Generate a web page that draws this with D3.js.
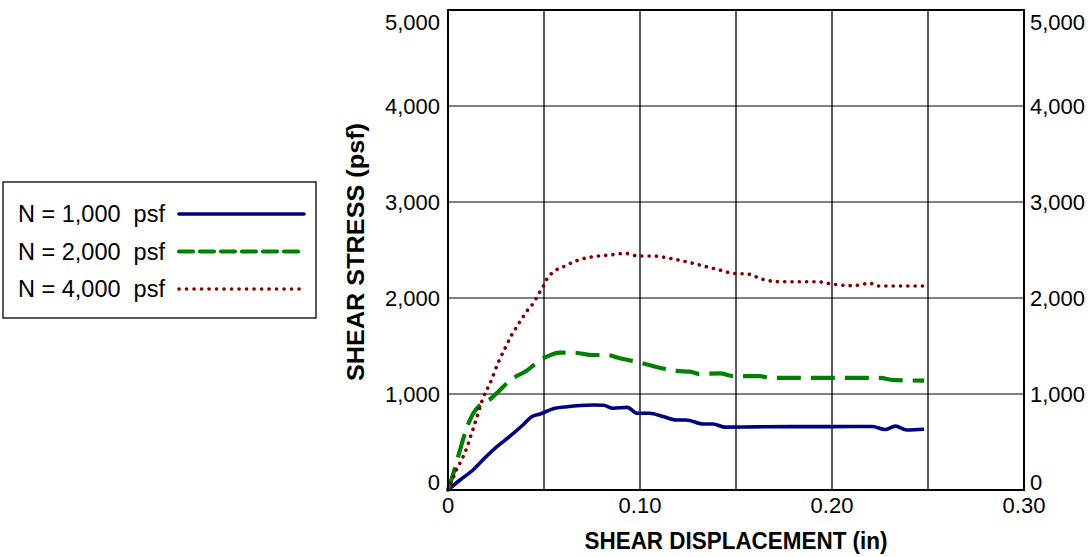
<!DOCTYPE html>
<html>
<head>
<meta charset="utf-8">
<script src="https://cdn.jsdelivr.net/npm/d3@7"></script>
<style>
  body { margin: 0; background: #fff; }
  svg { display: block; font-family: Arial, "Liberation Sans", sans-serif; }
</style>
</head>
<body>
<svg id="chart" width="1090" height="557"></svg>
<script>
// ------------------------
// data
// ------------------------
const xTicks = [ 0, 0.05, 0.10, 0.15, 0.20, 0.25, 0.30 ];
const xTickLabels = [ '0', '', '0.10', '', '0.20', '', '0.30' ];
const yTicks = [ 0, 1000, 2000, 3000, 4000, 5000 ];

const seriesNames = [ 'N = 1,000  psf', 'N = 2,000  psf', 'N = 4,000  psf' ];

// [displacement (in), stress (psf)]
const n1000 = [
	[ 0, 0 ], [ 0.00625, 104 ], [ 0.013, 208 ], [ 0.019, 330 ], [ 0.0255, 451 ],
	[ 0.032, 555 ], [ 0.039, 677 ], [ 0.0436, 764 ], [ 0.048, 792 ],
	[ 0.0557, 851 ], [ 0.062, 868 ], [ 0.069, 880 ], [ 0.076, 885 ],
	[ 0.081, 883 ], [ 0.086, 851 ], [ 0.0934, 861 ], [ 0.0986, 799 ], [ 0.105, 799 ],
	[ 0.112, 765 ], [ 0.119, 729 ], [ 0.124, 729 ], [ 0.133, 688 ], [ 0.138, 688 ],
	[ 0.144, 655 ], [ 0.16, 658 ], [ 0.18, 660 ], [ 0.20, 660 ], [ 0.221, 662 ],
	[ 0.2276, 630 ], [ 0.233, 665 ], [ 0.239, 625 ], [ 0.248, 632 ],
];

const n2000 = [
	[ 0, 0 ], [ 0.0028, 174 ], [ 0.00625, 417 ], [ 0.0097, 642 ], [ 0.0132, 799 ],
	[ 0.0167, 885 ], [ 0.0219, 945 ], [ 0.0262, 1024 ], [ 0.0306, 1111 ], [ 0.0358, 1187 ],
	[ 0.041, 1243 ], [ 0.0462, 1326 ], [ 0.0514, 1389 ], [ 0.0583, 1431 ], [ 0.065, 1431 ],
	[ 0.0757, 1406 ], [ 0.0826, 1406 ], [ 0.0896, 1372 ], [ 0.1, 1326 ], [ 0.114, 1257 ],
	[ 0.119, 1240 ], [ 0.126, 1233 ], [ 0.131, 1208 ], [ 0.1417, 1215 ], [ 0.1486, 1187 ],
	[ 0.1625, 1187 ], [ 0.1677, 1167 ], [ 0.19, 1167 ], [ 0.21, 1167 ], [ 0.225, 1167 ],
	[ 0.232, 1146 ], [ 0.248, 1139 ],
];

const n4000 = [
	[ 0, 0 ], [ 0.0019, 86 ], [ 0.0045, 215 ], [ 0.0066, 295 ], [ 0.0097, 434 ],
	[ 0.0123, 590 ], [ 0.0146, 729 ], [ 0.0184, 965 ], [ 0.0219, 1111 ], [ 0.0262, 1330 ],
	[ 0.0297, 1476 ], [ 0.0332, 1615 ], [ 0.0375, 1753 ], [ 0.0418, 1882 ], [ 0.0444, 1944 ],
	[ 0.0476, 2055 ], [ 0.0497, 2125 ], [ 0.0514, 2194 ], [ 0.054, 2257 ], [ 0.0609, 2333 ],
	[ 0.067, 2389 ], [ 0.0757, 2431 ], [ 0.0844, 2448 ], [ 0.0922, 2465 ], [ 0.099, 2437 ],
	[ 0.107, 2437 ], [ 0.1156, 2413 ], [ 0.124, 2378 ], [ 0.131, 2344 ], [ 0.14, 2299 ],
	[ 0.1486, 2257 ], [ 0.156, 2250 ], [ 0.164, 2194 ], [ 0.173, 2170 ], [ 0.192, 2170 ],
	[ 0.1998, 2146 ], [ 0.211, 2128 ], [ 0.22, 2153 ], [ 0.223, 2125 ], [ 0.248, 2125 ],
];

const seriesData = [ n1000, n2000, n4000 ];

// styles per series
const styles = [
	{ color: '#000080', dash: null, legendDash: null, width: 3.6 },
	{ color: '#008000', dash: '24,10', legendDash: '14,7', width: 4.2 },
	{ color: '#800000', dash: '0.1,7.2', legendDash: '0.1,7.4', width: 3.6, cap: 'round' },
];

// ------------------------
// layout
// ------------------------
const svg = d3.select( '#chart' );
const margin = { top: 10, right: 66, bottom: 67, left: 448 };
const width = 1090 - margin.left - margin.right;
const height = 557 - margin.top - margin.bottom;

const x = d3.scaleLinear().domain( [ 0, 0.30 ] ).range( [ 0, width ] );
const y = d3.scaleLinear().domain( [ 0, 5000 ] ).range( [ height, 0 ] );

const g = svg.append( 'g' ).attr( 'transform', `translate(${ margin.left },${ margin.top })` );

// grid lines
g.selectAll( '.hgrid' )
	.data( yTicks.slice( 1, -1 ) )
	.join( 'line' )
	.attr( 'x1', 0 ).attr( 'x2', width )
	.attr( 'y1', d => y( d ) ).attr( 'y2', d => y( d ) )
	.attr( 'stroke', '#555' ).attr( 'stroke-width', 1.6 );

g.selectAll( '.vgrid' )
	.data( xTicks.slice( 1, -1 ) )
	.join( 'line' )
	.attr( 'x1', d => x( d ) ).attr( 'x2', d => x( d ) )
	.attr( 'y1', 0 ).attr( 'y2', height )
	.attr( 'stroke', '#000' ).attr( 'stroke-width', 1.3 );

// series
const line = d3.line()
	.x( d => x( d[ 0 ] ) )
	.y( d => y( d[ 1 ] ) )
	.curve( d3.curveMonotoneX );

g.selectAll( '.series' )
	.data( seriesData )
	.join( 'path' )
	.attr( 'd', line )
	.attr( 'fill', 'none' )
	.attr( 'stroke', ( d, i ) => styles[ i ].color )
	.attr( 'stroke-width', ( d, i ) => styles[ i ].width )
	.attr( 'stroke-dasharray', ( d, i ) => styles[ i ].dash )
	.attr( 'stroke-linecap', ( d, i ) => styles[ i ].cap || 'butt' )
	.attr( 'stroke-linejoin', 'round' );

// frame
g.append( 'rect' )
	.attr( 'width', width ).attr( 'height', height )
	.attr( 'fill', 'none' ).attr( 'stroke', '#000' ).attr( 'stroke-width', 2 );

// tick labels
const fontSize = 22;
const yLabelY = d => {
	if ( d === 0 ) return y( d ) - 8;
	if ( d === 5000 ) return y( d ) + 12;
	return y( d );
};

g.selectAll( '.ylabL' )
	.data( yTicks )
	.join( 'text' )
	.attr( 'x', -8 )
	.attr( 'y', yLabelY )
	.attr( 'dy', '0.35em' )
	.attr( 'text-anchor', 'end' )
	.attr( 'font-size', fontSize )
	.text( d3.format( ',' ) );

g.selectAll( '.ylabR' )
	.data( yTicks )
	.join( 'text' )
	.attr( 'x', width + 6 )
	.attr( 'y', yLabelY )
	.attr( 'dy', '0.35em' )
	.attr( 'text-anchor', 'start' )
	.attr( 'font-size', fontSize )
	.text( d3.format( ',' ) );

g.selectAll( '.xlab' )
	.data( xTicks )
	.join( 'text' )
	.attr( 'x', d => x( d ) )
	.attr( 'y', height + 15 )
	.attr( 'dy', '0.35em' )
	.attr( 'text-anchor', 'middle' )
	.attr( 'font-size', fontSize )
	.text( ( d, i ) => xTickLabels[ i ] );

// axis titles
g.append( 'text' )
	.attr( 'x', width / 2 )
	.attr( 'y', height + 51 )
	.attr( 'dy', '0.35em' )
	.attr( 'text-anchor', 'middle' )
	.attr( 'font-size', 24 )
	.attr( 'font-weight', 'bold' )
	.attr( 'textLength', 303 )
	.attr( 'lengthAdjust', 'spacingAndGlyphs' )
	.text( 'SHEAR DISPLACEMENT (in)' );

g.append( 'text' )
	.attr( 'transform', `translate(${ -92 },${ height / 2 + 2 }) rotate(-90)` )
	.attr( 'dy', '0.35em' )
	.attr( 'text-anchor', 'middle' )
	.attr( 'font-size', 24 )
	.attr( 'font-weight', 'bold' )
	.attr( 'textLength', 258 )
	.attr( 'lengthAdjust', 'spacingAndGlyphs' )
	.text( 'SHEAR STRESS (psf)' );

// legend
const legend = svg.append( 'g' );
legend.append( 'rect' )
	.attr( 'x', 3 ).attr( 'y', 182 )
	.attr( 'width', 313 ).attr( 'height', 136 )
	.attr( 'fill', '#fff' ).attr( 'stroke', '#000' ).attr( 'stroke-width', 1.3 );

const rows = legend.selectAll( '.row' )
	.data( seriesNames )
	.join( 'g' )
	.attr( 'transform', ( d, i ) => `translate(0,${ 214 + i * 37.5 })` );

rows.append( 'text' )
	.attr( 'x', 18 )
	.attr( 'dy', '0.35em' )
	.attr( 'font-size', 23.5 )
	.style( 'white-space', 'pre' )
	.text( d => d );

rows.append( 'line' )
	.attr( 'x1', 179 ).attr( 'x2', 304 )
	.attr( 'stroke', ( d, i ) => styles[ i ].color )
	.attr( 'stroke-width', ( d, i ) => styles[ i ].width )
	.attr( 'stroke-dasharray', ( d, i ) => styles[ i ].legendDash )
	.attr( 'stroke-linecap', ( d, i ) => styles[ i ].cap || 'round' );
</script>
</body>
</html>
